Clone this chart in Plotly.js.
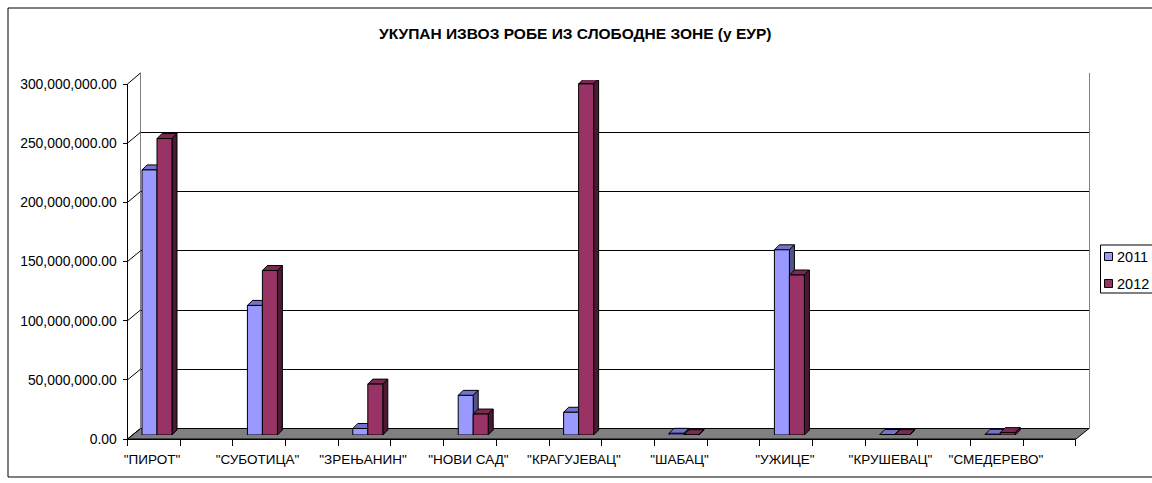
<!DOCTYPE html>
<html>
<head>
<meta charset="utf-8">
<script src="https://cdn.plot.ly/plotly-3.0.1.min.js"></script>
<style>html,body{margin:0;padding:0;background:#fff;}#chart{width:1152px;height:483px;}</style>
</head>
<body>
<div id="chart"></div>
<script>
// ---- data ----
const categories = ['"ПИРОТ"', '"СУБОТИЦА"', '"ЗРЕЊАНИН"', '"НОВИ САД"', '"КРАГУЈЕВАЦ"', '"ШАБАЦ"', '"УЖИЦЕ"', '"КРУШЕВАЦ"', '"СМЕДЕРЕВО"'];
const series2011 = [224000000, 109500000, 5500000, 33500000, 19200000, 1400000, 156500000, 400000, 600000];
const series2012 = [250500000, 139000000, 43000000, 17700000, 296700000, 300000, 135200000, 300000, 2000000];
const seriesNames = ['2011', '2012'];
const yTickValues = [0, 50000000, 100000000, 150000000, 200000000, 250000000, 300000000];
const titleText = 'УКУПАН ИЗВОЗ РОБЕ ИЗ СЛОБОДНЕ ЗОНЕ (у ЕУР)';

// ---- geometry helpers (pixel -> paper) ----
const W = 1152, H = 483;
const px = x => x / W;
const py = y => 1 - y / H;
const FONT = 'Liberation Sans, Arial, sans-serif';
const YMAX = 300000000;

const front = { l: 127.5, r: 1076, b: 439, t: 84 };
const back = { l: 140.5, r: 1089, b: 428.5, t: 73 };
const bars = { l: 127.5, r: 1076, b: 435, t: 80 };

const colFront = ['#9999FF', '#993366'];
const colTop = ['#7373CC', '#7A2952'];
const colSide = ['#52528C', '#4A1A33'];

const barW = 0.1423;            // in category units (x3)
const depthX = 5 / 105.4;       // category units
const depthY = 5 * YMAX / (bars.b - bars.t); // value units

const traces = [
  { x: [], y: [], type: 'scatter', xaxis: 'x', yaxis: 'y', showlegend: false, hoverinfo: 'skip' },
  { x: [], y: [], type: 'scatter', xaxis: 'x2', yaxis: 'y2', showlegend: false, hoverinfo: 'skip' }
];
[series2011, series2012].forEach((vals, k) => {
  traces.push({
    type: 'bar', name: seriesNames[k],
    x: categories.map((c, i) => i), y: vals,
    xaxis: 'x3', yaxis: 'y3',
    marker: { color: colFront[k], line: { color: '#000', width: 1 } },
    showlegend: false, hovertemplate: '%{y:,.2f}<extra>' + seriesNames[k] + '</extra>'
  });
});

const shapes = [];
// floor
shapes.push({
  type: 'path', xref: 'paper', yref: 'paper', layer: 'below',
  path: `M ${px(front.l)},${py(front.b)} L ${px(front.r)},${py(front.b)} L ${px(back.r)},${py(back.b)} L ${px(back.l)},${py(back.b)} Z`,
  fillcolor: '#808080', line: { color: '#000', width: 1 }
});
// side-wall connectors at each tick
yTickValues.forEach(v => {
  const yf = front.b - v / YMAX * (front.b - front.t);
  const yb = back.b - v / YMAX * (back.b - back.t);
  shapes.push({ type: 'line', xref: 'paper', yref: 'paper', x0: px(front.l), y0: py(yf), x1: px(back.l), y1: py(yb), line: { color: '#000', width: 1 } });
});
// 3D faces of bars
[series2011, series2012].forEach((vals, k) => {
  vals.forEach((v, i) => {
    const x0 = k === 0 ? i - barW : i;
    const x1 = x0 + barW;
    shapes.push({
      type: 'path', xref: 'x3', yref: 'y3', layer: 'between',
      path: `M ${x0},${v} L ${x1},${v} L ${x1 + depthX},${v + depthY} L ${x0 + depthX},${v + depthY} Z`,
      fillcolor: colTop[k], line: { color: '#000', width: 1 }
    });
    shapes.push({
      type: 'path', xref: 'x3', yref: 'y3', layer: 'between',
      path: `M ${x1},0 L ${x1},${v} L ${x1 + depthX},${v + depthY} L ${x1 + depthX},${depthY} Z`,
      fillcolor: colSide[k], line: { color: '#000', width: 1 }
    });
  });
});
// outer border
shapes.push({ type: 'rect', xref: 'paper', yref: 'paper', x0: px(8), x1: px(1160), y0: py(477), y1: py(8), line: { color: '#000', width: 1 }, fillcolor: 'rgba(0,0,0,0)' });
// legend box & swatches
shapes.push({ type: 'rect', xref: 'paper', yref: 'paper', x0: px(1100.5), x1: px(1160), y0: py(293), y1: py(245), line: { color: '#000', width: 1 }, fillcolor: '#fff' });
const annotations = [
  { text: '<b>' + titleText + '</b>', xref: 'paper', yref: 'paper', x: px(575), y: py(33), xanchor: 'center', yanchor: 'middle', showarrow: false, font: { family: FONT, size: 15.5, color: '#000' } }
];
seriesNames.forEach((n, k) => {
  const cy = 256.5 + k * 27;
  shapes.push({ type: 'rect', xref: 'paper', yref: 'paper', x0: px(1104.5), x1: px(1112.5), y0: py(cy + 4), y1: py(cy - 4), line: { color: '#000', width: 1 }, fillcolor: colFront[k] });
  annotations.push({ text: n, xref: 'paper', yref: 'paper', x: px(1115), y: py(cy), xanchor: 'left', yanchor: 'middle', showarrow: false, font: { family: FONT, size: 14.5, color: '#000' } });
});

const layout = {
  width: W, height: H, autosize: false,
  margin: { l: 0, r: 0, t: 0, b: 0, pad: 0 },
  paper_bgcolor: '#fff', plot_bgcolor: 'rgba(0,0,0,0)',
  showlegend: false,
  barmode: 'group', bargap: 0.7154, bargroupgap: 0,
  font: { family: FONT, size: 13.3, color: '#000' },
  xaxis: {
    type: 'linear', anchor: 'y', domain: [px(front.l), px(front.r)], range: [-0.2322, 8.759],
    tickmode: 'array', tickvals: categories.map((c, i) => i), ticktext: categories,
    ticks: '', showline: true, linecolor: '#000', linewidth: 1, showgrid: false, zeroline: false,
    tickfont: { family: FONT, size: 13.5, color: '#000' }, ticklabelstandoff: 8,
    minor: { tickmode: 'linear', tick0: -0.2322, dtick: 0.4995, ticks: 'outside', ticklen: 6, tickcolor: '#000', tickwidth: 1, showgrid: false },
    fixedrange: true
  },
  yaxis: {
    anchor: 'x', domain: [py(front.b), py(front.t)], range: [0, YMAX],
    tickmode: 'array', tickvals: yTickValues, tickformat: ',.2f',
    ticks: 'outside', ticklen: 4, tickcolor: '#000', showline: true, linecolor: '#000', linewidth: 1,
    showgrid: false, zeroline: false, tickfont: { family: FONT, size: 13.9, color: '#000' }, ticklabelstandoff: 3,
    fixedrange: true
  },
  xaxis2: {
    anchor: 'y2', domain: [px(back.l), px(back.r)], range: [0, 1],
    showticklabels: false, ticks: '', showgrid: false, zeroline: false, showline: false, fixedrange: true
  },
  yaxis2: {
    anchor: 'x2', domain: [py(back.b), py(back.t)], range: [0, YMAX],
    tickmode: 'array', tickvals: yTickValues, showticklabels: false, ticks: '',
    showgrid: true, gridcolor: '#000', gridwidth: 1, zeroline: false,
    showline: true, mirror: true, linecolor: '#808080', linewidth: 1, fixedrange: true
  },
  xaxis3: {
    anchor: 'y3', domain: [px(bars.l), px(bars.r)], range: [-0.2799, 8.719], visible: false, fixedrange: true
  },
  yaxis3: {
    anchor: 'x3', domain: [py(bars.b), py(bars.t)], range: [0, YMAX], visible: false, fixedrange: true
  },
  shapes: shapes,
  annotations: annotations
};

Plotly.newPlot('chart', traces, layout, { displayModeBar: false, staticPlot: true });
</script>
</body>
</html>
